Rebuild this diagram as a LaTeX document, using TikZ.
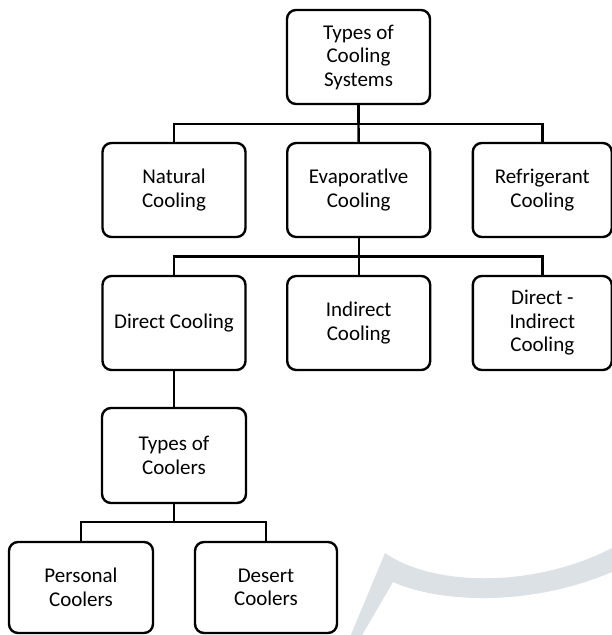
\documentclass[tikz,border=0pt]{standalone}
\usepackage{fontspec}
\setmainfont{Carlito}
\definecolor{wmark}{RGB}{220,225,229}
\begin{document}
\begin{tikzpicture}[x=1pt,y=-1pt,
  box/.style={draw=black,fill=white,line width=2.4pt,rounded corners=9pt,
    minimum width=143pt,minimum height=94pt,inner sep=0pt,align=center,
    font=\fontsize{21}{23.5}\selectfont},
  link/.style={draw=black,line width=2.4pt}]
\useasboundingbox (0,0) rectangle (612,635);
% watermark
\fill[wmark] (350,637) -- (385,553) .. controls (430,585) and (530,590) .. (612,548)
  -- (612,572) .. controls (530,607) and (440,603) .. (393,582) -- (361,637) -- cycle;
% nodes
\node[box] (top) at (358.5,57) {Types of\\Cooling\\Systems};
\node[box] (nat) at (174,190) {Natural\\Cooling};
\node[box] (evap) at (358.7,190) {Evaporatlve\\Cooling};
\node[box,minimum width=139pt] (ref) at (542.3,190) {Refrigerant\\Cooling};
\node[box] (dir) at (174,323) {Direct Cooling};
\node[box] (ind) at (358.7,323) {Indirect\\Cooling};
\node[box,minimum width=139pt] (dind) at (542.3,323) {Direct -\\Indirect\\Cooling};
\node[box,minimum width=144pt,minimum height=95pt] (toc) at (174,455.5) {Types of\\Coolers};
\node[box,minimum width=144pt,minimum height=91pt] (pers) at (81,587.5) {Personal\\Coolers};
\node[box,minimum width=142pt,minimum height=91pt] (des) at (266,587.5) {Desert\\Coolers};
% buses
\coordinate (b1) at (358.5,124);
\coordinate (b2) at (358.7,256.5);
\coordinate (b3) at (174,522);
\draw[link] (top.south) -- (b1);
\draw[link] (nat.north) |- (b1) -| (ref.north);
\draw[link] (b1) -- (evap.north);
\draw[link] (evap.south) -- (b2);
\draw[link] (dir.north) |- (b2) -| (dind.north);
\draw[link] (b2) -- (ind.north);
\draw[link] (dir.south) -- (toc.north);
\draw[link] (toc.south) -- (b3);
\draw[link] (pers.north) |- (b3) -| (des.north);
\end{tikzpicture}
\end{document}
